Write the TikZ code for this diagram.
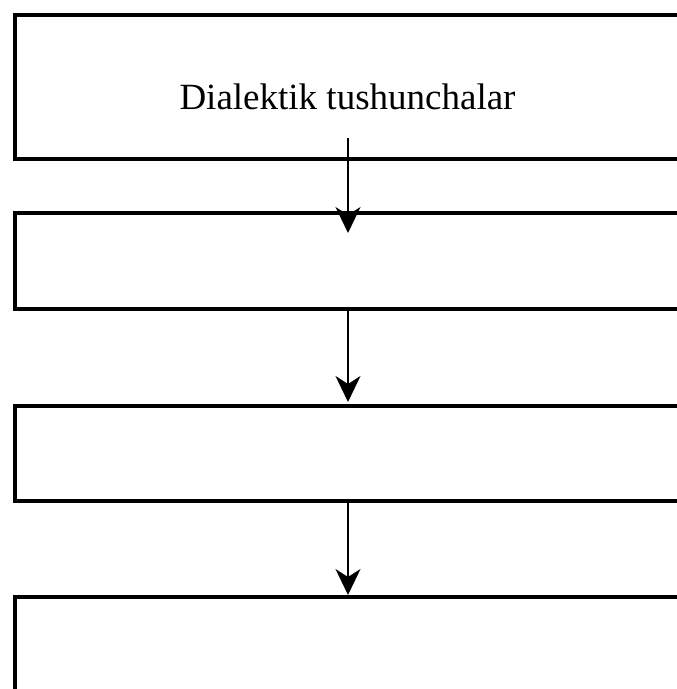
\documentclass[tikz,border=0pt]{standalone}
\usepackage{fontspec}
\setmainfont{Liberation Serif}
\usetikzlibrary{arrows.meta}
\begin{document}
\begin{tikzpicture}[x=1pt,y=-1pt,
  boxnode/.style={draw,line width=4pt,rectangle,inner sep=0pt,minimum width=700pt,anchor=north west},
  flow/.style={line width=2pt,-{Stealth[length=26pt,width=25pt,inset=8pt]}}]
\clip (0,0) rectangle (677,689);
\node[boxnode,minimum height=144pt] (b1) at (13,13) {};
\node[boxnode,minimum height=96pt] (b2) at (13,211) {};
\node[boxnode,minimum height=95pt] (b3) at (13,404) {};
\node[boxnode,minimum height=200pt] (b4) at (13,595) {};
\node[font=\fontsize{37}{44}\selectfont,anchor=base,inner sep=0pt] (t) at (347.5,109) {Dialektik tushunchalar};
\coordinate (a1s) at (348,138);
\coordinate (a1e) at (348,233);
\draw[flow] (a1s) -- (a1e);
\draw[flow] (b2.south -| a1s) -- ([yshift=2pt]b3.north -| a1s);
\draw[flow] (b3.south -| a1s) -- (b4.north -| a1s);
\end{tikzpicture}
\end{document}
